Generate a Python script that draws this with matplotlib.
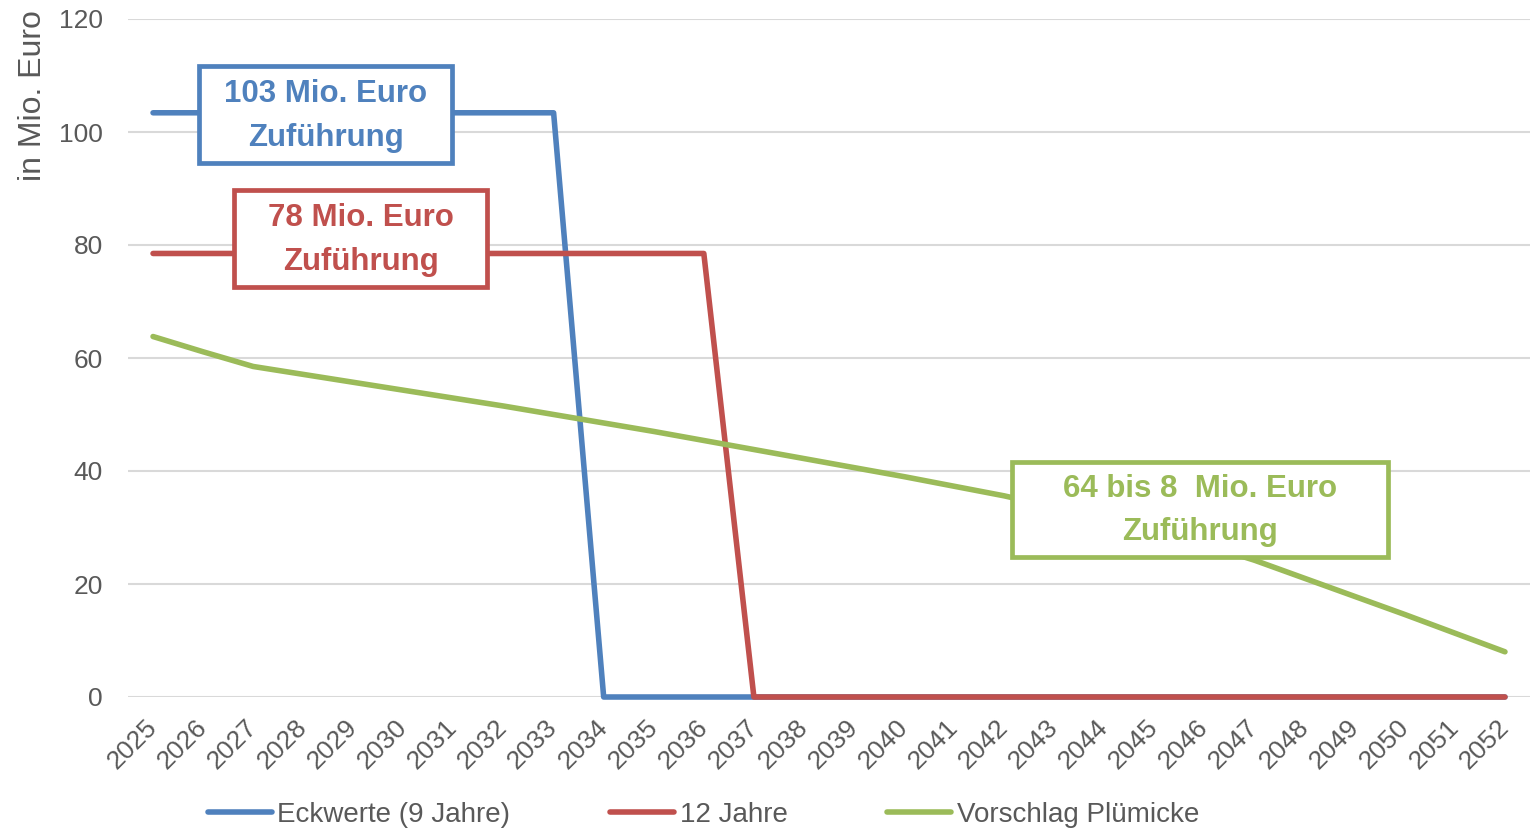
import matplotlib
matplotlib.use("Agg")
import matplotlib.pyplot as plt
from matplotlib.patches import Rectangle
from matplotlib.lines import Line2D

plt.rcParams['font.family'] = ['Liberation Sans', 'DejaVu Sans']

years = list(range(2025, 2053))
eckwerte = [103.4] * 9 + [0.0] * 19
zwoelf = [78.5] * 12 + [0.0] * 16
pluemicke = [63.8, 61.1, 58.5, 57.1, 55.7, 54.3, 52.9, 51.5, 50.0, 48.5,
             47.0, 45.4, 43.8, 42.2, 40.6, 39.0, 37.3, 35.6, 33.6, 31.6,
             29.5, 27.0, 24.2, 21.0, 17.8, 14.6, 11.3, 8.0]
series_names = ["Eckwerte (9 Jahre)", "12 Jahre", "Vorschlag Plümicke"]
colors = ["#4F81BD", "#C0504D", "#9BBB59"]
yticks = [0, 20, 40, 60, 80, 100, 120]

fig = plt.figure(figsize=(15.33, 8.31), dpi=100)
ax = fig.add_axes([128 / 1533, 1 - 697 / 831, 1402 / 1533, 678 / 831])

lw = 4.0
for vals, c in zip([eckwerte, zwoelf, pluemicke], colors):
    ax.plot(years, vals, color=c, lw=lw, solid_capstyle='round',
            solid_joinstyle='round', zorder=3, clip_on=False)

ax.set_xlim(2024.5, 2052.5)
ax.set_ylim(0, 120)
ax.set_yticks(yticks)
ax.set_xticks(years)
ax.set_xticklabels([str(y) for y in years], rotation=45, ha='right',
                   va='center', rotation_mode='anchor')
ax.tick_params(axis='x', length=0, pad=19, labelsize=19, labelcolor='#595959')
ax.tick_params(axis='y', length=0, pad=18, labelsize=19, labelcolor='#595959')
for s in ax.spines.values():
    s.set_visible(False)
ax.grid(axis='y', color='#d9d9d9', lw=1.5, zorder=0)
ax.set_axisbelow(True)
ax.set_ylabel("in Mio. Euro", fontsize=23, color='#595959')
ax.yaxis.label.set_va('center')
ax.yaxis.set_label_coords((33 - 128) / 1402, (697 - 95.5) / 678)

narrow = ['Liberation Sans Narrow', 'Liberation Sans', 'DejaVu Sans']

def box(x0, x1, y0, y1, color, text):
    r = Rectangle((x0, y0), x1 - x0, y1 - y0, facecolor='white',
                  edgecolor=color, lw=3.4, zorder=5, clip_on=False)
    ax.add_patch(r)
    ax.text((x0 + x1) / 2, (y0 + y1) / 2 - 0.2, text, ha='center', va='center',
            color=color, fontsize=22.5, fontweight='bold', family=narrow,
            linespacing=1.6, zorder=6)

box(2025.92, 2030.97, 94.5, 111.7, colors[0], "103 Mio. Euro\nZuführung")
box(2026.62, 2031.67, 72.6, 89.7, colors[1], "78 Mio. Euro\nZuführung")
box(2042.16, 2049.67, 24.8, 41.6, colors[2], "64 bis 8  Mio. Euro\nZuführung")

handles = [Line2D([0], [0], color=c, lw=lw, solid_capstyle='round') for c in colors]
fig.legend(handles, series_names, loc='center', ncol=3,
           bbox_to_anchor=(703.5 / 1533, 1 - 815 / 831), frameon=False,
           fontsize=20, labelcolor='#595959', handlelength=2.3,
           handletextpad=0.2, columnspacing=3.6, borderpad=0)

fig.savefig("out.png", dpi=100)
